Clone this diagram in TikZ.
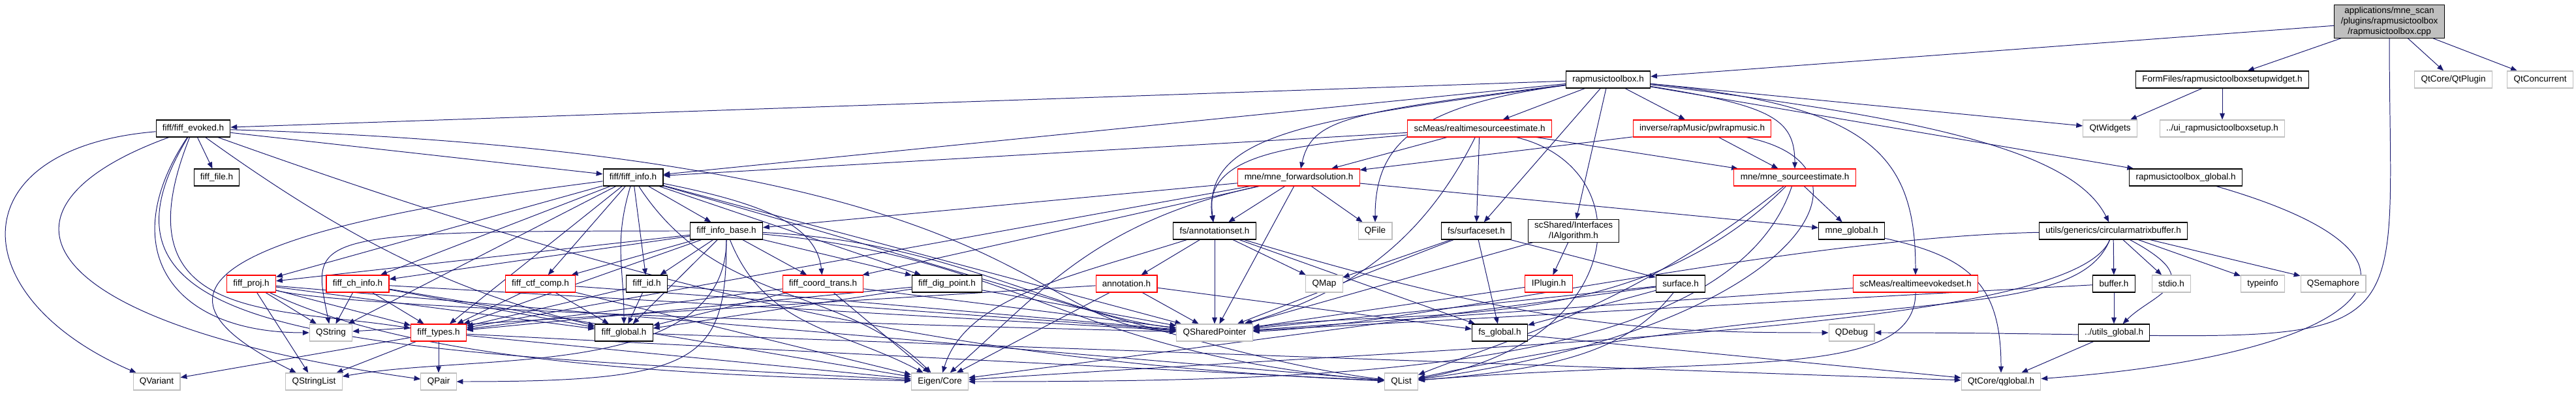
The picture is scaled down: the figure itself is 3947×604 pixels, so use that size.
\documentclass[tikz,border=0pt]{standalone}
\usepackage{fontspec}
\setmainfont{Liberation Sans}
\usepackage{xcolor}
\usetikzlibrary{arrows.meta, backgrounds}
\definecolor{edgeblue}{HTML}{191970}
\definecolor{sysgray}{HTML}{BFBFBF}

\begin{document}
\begin{tikzpicture}[
    x=0.25mm, y=-0.25mm,
    base/.style={draw, line width=0.75pt, fill=white, align=center,
                 font=\fontsize{9.6}{11.5}\selectfont, inner xsep=7pt, inner ysep=2pt,
                 minimum height=18.5pt},
    file/.style={base, draw=black},
    trunc/.style={base, draw=red},
    sys/.style={base, draw=sysgray},
    rootbox/.style={base, draw=black, fill=sysgray},
    arrow/.style={-{Triangle[length=7pt, width=5.5pt]}, line width=0.7pt, draw=edgeblue},
]
\useasboundingbox (0,0) rectangle (3947,604);

\node[rootbox] (root) at (3661,33) {applications/mne\_scan\\/plugins/rapmusictoolbox\\/rapmusictoolbox.cpp};

\node[file] (tbx) at (2464,122) {rapmusictoolbox.h};
\node[file] (setupw) at (3405,122) {FormFiles/rapmusictoolboxsetupwidget.h};
\node[sys] (qtplugin) at (3759,122) {QtCore/QtPlugin};
\node[sys] (qtconc) at (3892,122) {QtConcurrent};

\node[file] (evoked) at (296,197) {fiff/fiff\_evoked.h};
\node[trunc] (rtse) at (2267,197) {scMeas/realtimesourceestimate.h};
\node[trunc] (pwl) at (2608,197) {inverse/rapMusic/pwlrapmusic.h};
\node[sys] (qtwidgets) at (3233,197) {QtWidgets};
\node[sys] (uisetup) at (3405,197) {../ui\_rapmusictoolboxsetup.h};

\node[file] (fifffile) at (332,272) {fiff\_file.h};
\node[file] (info) at (970,272) {fiff/fiff\_info.h};
\node[trunc] (fwd) at (1990,272) {mne/mne\_forwardsolution.h};
\node[trunc] (srcest) at (2750,272) {mne/mne\_sourceestimate.h};
\node[file] (tbxglobal) at (3349,272) {rapmusictoolbox\_global.h};

\node[file] (infobase) at (1113,354) {fiff\_info\_base.h};
\node[file] (annotset) at (1861,354) {fs/annotationset.h};
\node[sys] (qfile) at (2107,354) {QFile};
\node[file] (surfset) at (2262,354) {fs/surfaceset.h};
\node[file] (ialgo) at (2411,354) {scShared/Interfaces\\/IAlgorithm.h};
\node[file] (mneglobal) at (2837,354) {mne\_global.h};
\node[file] (cmbuf) at (3238,354) {utils/generics/circularmatrixbuffer.h};

\node[trunc] (proj) at (385,435) {fiff\_proj.h};
\node[trunc] (chinfo) at (548,435) {fiff\_ch\_info.h};
\node[trunc] (ctfcomp) at (828,435) {fiff\_ctf\_comp.h};
\node[file] (fiffid) at (991,435) {fiff\_id.h};
\node[trunc] (coordtrans) at (1261,435) {fiff\_coord\_trans.h};
\node[file] (digpoint) at (1451,435) {fiff\_dig\_point.h};
\node[trunc] (annot) at (1726,435) {annotation.h};
\node[sys] (qmap) at (2029,435) {QMap};
\node[trunc] (iplugin) at (2373,435) {IPlugin.h};
\node[file] (surface) at (2575,435) {surface.h};
\node[trunc] (rtevoked) at (2935,435) {scMeas/realtimeevokedset.h};
\node[file] (buffer) at (3239,435) {buffer.h};
\node[sys] (stdio) at (3327,435) {stdio.h};
\node[sys] (typeinfo) at (3467,435) {typeinfo};
\node[sys] (qsem) at (3575,435) {QSemaphore};

\node[sys] (qstring) at (507,510) {QString};
\node[trunc] (types) at (672,510) {fiff\_types.h};
\node[file] (fiffglobal) at (956,510) {fiff\_global.h};
\node[sys] (qshared) at (1861,510) {QSharedPointer};
\node[file] (fsglobal) at (2298,510) {fs\_global.h};
\node[sys] (qdebug) at (2837,510) {QDebug};
\node[file] (utilsglobal) at (3239,510) {../utils\_global.h};

\node[sys] (qvariant) at (240,585) {QVariant};
\node[sys] (qstringlist) at (481,585) {QStringList};
\node[sys] (qpair) at (672,585) {QPair};
\node[sys] (eigen) at (1440,585) {Eigen/Core};
\node[sys] (qlist) at (2147,585) {QList};
\node[sys] (qglobal) at (3066,585) {QtCore/qglobal.h};

\begin{scope}[on background layer]
\draw[arrow] (root) -- (tbx);
\draw[arrow] (root) -- (setupw);
\draw[arrow] (root) -- (qtplugin);
\draw[arrow] (root) -- (qtconc);
\draw[arrow] (root) .. controls +(0,560) and +(900,0) .. (qdebug);
\draw[arrow] (setupw) -- (uisetup);
\draw[arrow] (setupw) -- (qtwidgets);

\draw[arrow] (tbx) -- (evoked);
\draw[arrow] (tbx) -- (info);
\draw[arrow] (tbx) .. controls +(-400,50) and +(20,-90) .. (fwd);
\draw[arrow] (tbx) .. controls +(-450,60) and +(-20,-150) .. (annotset);
\draw[arrow] (tbx) .. controls +(-300,40) and +(0,-130) .. (qfile);
\draw[arrow] (tbx) -- (rtse);
\draw[arrow] (tbx) -- (pwl);
\draw[arrow] (tbx) -- (surfset);
\draw[arrow] (tbx) -- (ialgo);
\draw[arrow] (tbx) .. controls +(250,40) and +(0,-90) .. (srcest);
\draw[arrow] (tbx) -- (qtwidgets);
\draw[arrow] (tbx) -- (tbxglobal);
\draw[arrow] (tbx) .. controls +(500,60) and +(-60,-120) .. (cmbuf);
\draw[arrow] (tbx) .. controls +(400,40) and +(0,-200) .. (rtevoked);

\draw[arrow] (evoked) -- (fifffile);
\draw[arrow] (evoked) -- (info);
\draw[arrow] (evoked) .. controls +(-360,30) and +(-300,-130) .. (qvariant);
\draw[arrow] (evoked) .. controls +(-330,120) and +(-640,-90) .. (qpair);
\draw[arrow] (evoked) .. controls +(-200,330) and +(-900,-50) .. (eigen);
\draw[arrow] (evoked) .. controls +(-120,180) and +(-250,0) .. (qstring);
\draw[arrow] (evoked) .. controls +(-120,300) and +(-250,-40) .. (types);
\draw[arrow] (evoked) .. controls +(250,180) and +(-250,-60) .. (fiffglobal);
\draw[arrow] (evoked) .. controls +(1300,40) and +(-300,-10) .. (qshared);
\draw[arrow] (evoked) .. controls +(700,250) and +(-700,-30) .. (qlist);

\draw[arrow] (info) -- (infobase);
\draw[arrow] (info) -- (proj);
\draw[arrow] (info) -- (chinfo);
\draw[arrow] (info) -- (ctfcomp);
\draw[arrow] (info) -- (fiffid);
\draw[arrow] (info) .. controls +(-30,100) and +(0,-100) .. (fiffglobal);
\draw[arrow] (info) .. controls +(200,40) and +(-10,-90) .. (coordtrans);
\draw[arrow] (info) -- (digpoint);
\draw[arrow] (info) -- (types);
\draw[arrow] (info) -- (qstring);
\draw[arrow] (info) .. controls +(-800,100) and +(-200,-100) .. (qstringlist);
\draw[arrow] (info) -- (qshared);
\draw[arrow] (info) .. controls +(130,200) and +(-150,-150) .. (eigen);
\draw[arrow] (info) .. controls +(600,170) and +(-250,-30) .. (qlist);

\draw[arrow] (infobase) -- (proj);
\draw[arrow] (infobase) -- (chinfo);
\draw[arrow] (infobase) -- (ctfcomp);
\draw[arrow] (infobase) -- (fiffid);
\draw[arrow] (infobase) -- (coordtrans);
\draw[arrow] (infobase) -- (digpoint);
\draw[arrow] (infobase) -- (types);
\draw[arrow] (infobase) -- (fiffglobal);
\draw[arrow] (infobase) .. controls +(-650,0) and +(-30,-150) .. (qstring);
\draw[arrow] (infobase) .. controls +(0,230) and +(250,-45) .. (qstringlist);
\draw[arrow] (infobase) .. controls +(340,15) and +(-250,-30) .. (qshared);
\draw[arrow] (infobase) .. controls +(60,150) and +(-150,-80) .. (eigen);
\draw[arrow] (infobase) .. controls +(450,40) and +(-500,-40) .. (qlist);
\draw[arrow] (infobase) .. controls +(0,200) and +(400,0) .. (qpair);

\draw[arrow] (proj) -- (qstring);
\draw[arrow] (proj) -- (qstringlist);
\draw[arrow] (proj) -- (types);
\draw[arrow] (proj) -- (fiffglobal);
\draw[arrow] (proj) .. controls +(150,40) and +(-400,-10) .. (qshared);
\draw[arrow] (proj) .. controls +(250,120) and +(-400,-10) .. (eigen);
\draw[arrow] (proj) -- (qlist);
\draw[arrow] (chinfo) -- (qstring);
\draw[arrow] (chinfo) -- (types);
\draw[arrow] (chinfo) -- (fiffglobal);
\draw[arrow] (chinfo) -- (qshared);
\draw[arrow] (chinfo) -- (eigen);
\draw[arrow] (ctfcomp) -- (types);
\draw[arrow] (ctfcomp) -- (fiffglobal);
\draw[arrow] (ctfcomp) -- (qshared);
\draw[arrow] (ctfcomp) -- (eigen);
\draw[arrow] (fiffid) -- (types);
\draw[arrow] (fiffid) -- (fiffglobal);
\draw[arrow] (fiffid) -- (qshared);
\draw[arrow] (coordtrans) -- (types);
\draw[arrow] (coordtrans) -- (fiffglobal);
\draw[arrow] (coordtrans) -- (qshared);
\draw[arrow] (coordtrans) -- (eigen);
\draw[arrow] (digpoint) -- (types);
\draw[arrow] (digpoint) -- (fiffglobal);
\draw[arrow] (digpoint) -- (qshared);
\draw[arrow] (types) -- (qvariant);
\draw[arrow] (types) -- (qstringlist);
\draw[arrow] (types) -- (qpair);
\draw[arrow] (types) -- (eigen);
\draw[arrow] (types) -- (qlist);
\draw[arrow] (fiffglobal) -- (qglobal);

\draw[arrow] (rtse) -- (info);
\draw[arrow] (rtse) -- (fwd);
\draw[arrow] (rtse) .. controls +(-280,25) and +(-20,-120) .. (annotset);
\draw[arrow] (rtse) -- (surfset);
\draw[arrow] (rtse) -- (srcest);
\draw[arrow] (rtse) .. controls +(-90,180) and +(200,-60) .. (qshared);
\draw[arrow] (rtse) .. controls +(250,60) and +(350,-60) .. (qlist);
\draw[arrow] (pwl) -- (fwd);
\draw[arrow] (pwl) -- (srcest);
\draw[arrow] (pwl) .. controls +(300,60) and +(600,-80) .. (qlist);

\draw[arrow] (fwd) -- (annotset);
\draw[arrow] (fwd) -- (infobase);
\draw[arrow] (fwd) -- (coordtrans);
\draw[arrow] (fwd) -- (types);
\draw[arrow] (fwd) -- (mneglobal);
\draw[arrow] (fwd) -- (qfile);
\draw[arrow] (fwd) -- (qshared);
\draw[arrow] (fwd) .. controls +(-320,70) and +(150,-130) .. (eigen);

\draw[arrow] (annotset) -- (annot);
\draw[arrow] (annotset) -- (fsglobal);
\draw[arrow] (annotset) -- (qmap);
\draw[arrow] (annotset) -- (qshared);
\draw[arrow] (annotset) .. controls +(500,150) and +(-300,0) .. (qdebug);
\draw[arrow] (annotset) .. controls +(-220,70) and +(40,-130) .. (eigen);
\draw[arrow] (annot) -- (fsglobal);
\draw[arrow] (annot) -- (qshared);
\draw[arrow] (annot) -- (eigen);
\draw[arrow] (annot) -- (qstring);
\draw[arrow] (surfset) -- (surface);
\draw[arrow] (surfset) -- (fsglobal);
\draw[arrow] (surfset) -- (qmap);
\draw[arrow] (surfset) -- (qshared);
\draw[arrow] (ialgo) -- (iplugin);
\draw[arrow] (ialgo) -- (qshared);
\draw[arrow] (iplugin) -- (qshared);
\draw[arrow] (surface) -- (fsglobal);
\draw[arrow] (surface) -- (qshared);
\draw[arrow] (surface) -- (eigen);
\draw[arrow] (surface) .. controls +(-80,100) and +(250,-20) .. (qlist);

\draw[arrow] (srcest) -- (mneglobal);
\draw[arrow] (srcest) .. controls +(-250,250) and +(300,-40) .. (qshared);
\draw[arrow] (srcest) .. controls +(-250,200) and +(150,-60) .. (qlist);
\draw[arrow] (srcest) .. controls +(-100,300) and +(600,0) .. (eigen);
\draw[arrow] (mneglobal) .. controls +(180,40) and +(0,-150) .. (qglobal);
\draw[arrow] (rtevoked) -- (qshared);
\draw[arrow] (rtevoked) .. controls +(0,150) and +(500,-40) .. (qlist);

\draw[arrow] (cmbuf) -- (buffer);
\draw[arrow] (cmbuf) .. controls +(150,80) and +(60,-60) .. (utilsglobal);
\draw[arrow] (cmbuf) -- (stdio);
\draw[arrow] (cmbuf) -- (typeinfo);
\draw[arrow] (cmbuf) -- (qsem);
\draw[arrow] (cmbuf) .. controls +(-500,10) and +(300,-10) .. (qshared);
\draw[arrow] (cmbuf) .. controls +(-60,150) and +(900,-60) .. (eigen);
\draw[arrow] (cmbuf) .. controls +(-60,150) and +(700,-150) .. (qlist);
\draw[arrow] (buffer) -- (utilsglobal);
\draw[arrow] (buffer) -- (qshared);
\draw[arrow] (utilsglobal) -- (qglobal);
\draw[arrow] (tbxglobal) .. controls +(450,130) and +(550,-40) .. (qglobal);
\draw[arrow] (fsglobal) -- (qglobal);
\end{scope}
\end{tikzpicture}
\end{document}
